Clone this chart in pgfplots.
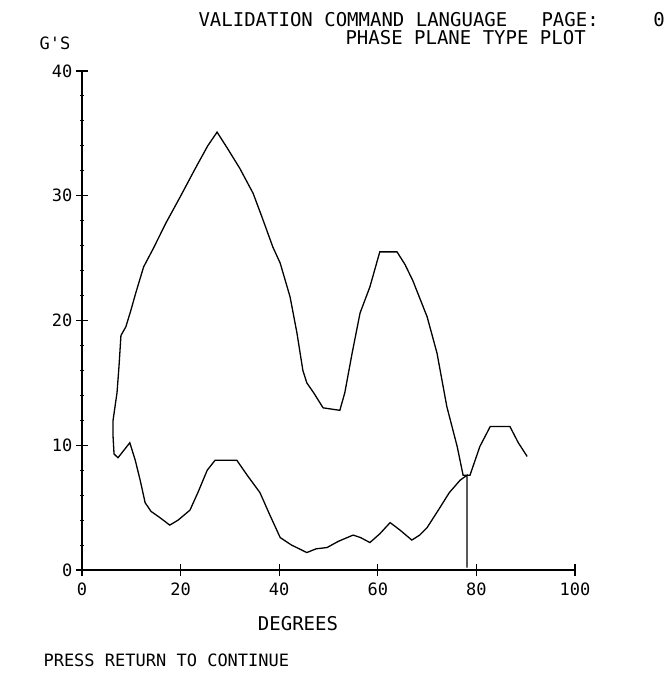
\documentclass[border=0pt]{standalone}
\usepackage{fontspec}
\usepackage{pgfplots}
\pgfplotsset{compat=1.18}
\newfontfamily\dm{DejaVu Sans Mono}
\newcommand{\dmbig}{\dm\fontsize{19}{19}\selectfont}
\newcommand{\dmsmall}{\dm\fontsize{17}{17}\selectfont}

\begin{document}
\begin{tikzpicture}
\path[use as bounding box] (0,0) rectangle (666pt,-679pt);

\begin{axis}[
  at={(82pt,-570pt)}, anchor=south west,
  scale only axis, width=493pt, height=499pt,
  xmin=0, xmax=100, ymin=0, ymax=40,
  axis x line=bottom, axis y line=left,
  axis line style={-, line width=1.2pt},
  xtick={0,20,...,100}, ytick={0,10,...,40},
  minor y tick num=4,
  tick align=center, major tick length=12pt, minor tick length=4pt,
  tick style={black, line width=1.1pt},
  ticklabel style={font=\dmsmall},
  xticklabel style={yshift=-3pt},
  /pgf/number format/assume math mode=true,
  clip=false,
]
% vertical marker and lower branch (traced right to left), then upper branch
\addplot[black, line width=1.3pt] coordinates {
  (78.1,0.2) (78.1,7.6)
  (76.7,7.2) (74.5,6.2) (72.6,5.0) (70.0,3.4) (68.5,2.8) (66.9,2.4)
  (64.5,3.2) (62.5,3.8) (60.4,2.9) (58.4,2.2) (56.5,2.6) (55.0,2.8)
  (52.0,2.3) (49.7,1.8) (47.5,1.7) (45.6,1.4) (42.5,2.0) (40.2,2.6)
  (38.0,4.5) (36.1,6.2) (33.5,7.6) (31.4,8.8) (27.0,8.8) (25.4,8.0)
  (23.5,6.2) (21.9,4.8) (19.5,4.0) (17.8,3.6) (15.8,4.2) (14.0,4.7)
  (12.8,5.4) (11.8,7.2) (10.8,8.8) (9.7,10.2) (8.5,9.6) (7.3,9.0)
  (6.5,9.3)
  (6.3,10.7) (6.3,12.0) (7.1,14.2) (7.5,16.3) (7.9,18.8) (8.9,19.5)
  (9.9,20.8) (10.9,22.2) (12.5,24.3) (14.5,25.8) (17.0,27.8) (19.9,29.9)
  (23.0,32.2) (25.5,34.0) (27.4,35.1) (29.5,33.8) (32.0,32.2) (34.7,30.2)
  (36.5,28.3) (38.7,25.9) (40.2,24.6) (42.2,21.9) (43.6,19.0) (44.8,16.0)
  (45.6,15.0) (47.0,14.2) (48.9,13.0) (52.3,12.8) (53.3,14.2) (54.8,17.4)
  (56.4,20.6) (58.4,22.7) (60.4,25.5) (63.9,25.5) (65.5,24.5) (67.1,23.2)
  (70.0,20.3) (72.0,17.4) (74.0,13.1) (76.1,9.9) (77.3,7.6) (78.7,7.6)
  (80.7,9.9) (82.8,11.5) (86.8,11.5) (88.5,10.2) (90.3,9.1)
};
\end{axis}

\node[anchor=west, font=\dmbig] at (195pt,-20pt) {VALIDATION COMMAND LANGUAGE};
\node[anchor=west, font=\dmbig] at (538pt,-20pt) {PAGE:};
\node[font=\dmbig] at (659pt,-20pt) {0};
\node[anchor=west, font=\dmbig] at (342pt,-38pt) {PHASE PLANE TYPE PLOT};
\node[anchor=west, font=\dmsmall] at (36pt,-43pt) {G'S};
\node[font=\dmbig] at (298pt,-624pt) {DEGREES};
\node[anchor=west, font=\dmsmall] at (40pt,-660pt) {PRESS RETURN TO CONTINUE};
\end{tikzpicture}
\end{document}
